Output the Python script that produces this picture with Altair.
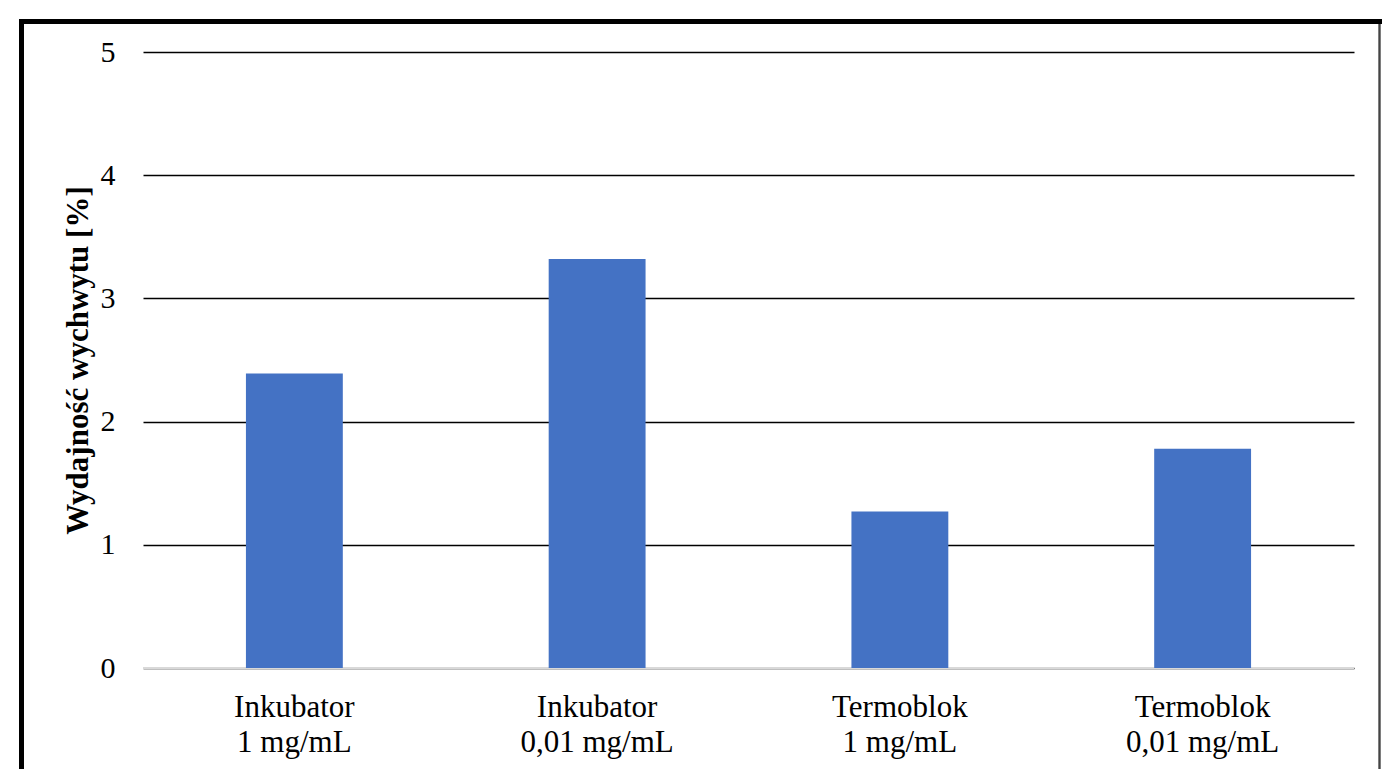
import altair as alt
import pandas as pd

# Recovery yield per heating method and standard concentration
devices = ["Inkubator", "Inkubator", "Termoblok", "Termoblok"]
concentrations = ["1 mg/mL", "0,01 mg/mL", "1 mg/mL", "0,01 mg/mL"]
yields = [2.39, 3.32, 1.27, 1.78]
y_ticks = [0, 1, 2, 3, 4, 5]

categories = [f"{d}|{c}" for d, c in zip(devices, concentrations)]
df = pd.DataFrame({"kategoria": categories, "wydajnosc": yields})

FONT = "Liberation Serif"
W, H = 1211, 616

bars = alt.Chart(df).mark_bar(color="#4472C4").encode(
    x=alt.X(
        "kategoria:N",
        sort=categories,
        title=None,
        scale=alt.Scale(paddingInner=0.68, paddingOuter=0.34),
        axis=alt.Axis(
            labelExpr="split(datum.label, '|')",
            labelAngle=0,
            labelFont=FONT,
            labelFontSize=31,
            labelLineHeight=35,
            labelPadding=24,
            ticks=False,
            domain=False,
            grid=False,
        ),
    ),
    y=alt.Y(
        "wydajnosc:Q",
        title=["Wydajność wychwytu [%]"],
        scale=alt.Scale(domain=[0, 5], nice=False),
        axis=alt.Axis(
            values=y_ticks,
            labelExpr="[format(datum.value, 'd')]",
            labelFont=FONT,
            labelFontSize=30,
            labelPadding=28,
            ticks=False,
            domain=False,
            grid=True,
            gridColor="black",
            gridWidth=1.6,
            titleFont=FONT,
            titleFontSize=31,
            titleFontWeight="bold",
            titleX=-65,
            titleY=H / 2,
            titleBaseline="middle",
            titleAngle=270,
        ),
    ),
)

# Light baseline at zero, drawn over the black gridline
baseline = alt.Chart(pd.DataFrame({"wydajnosc": [y_ticks[0]]})).mark_rule(
    color="#d9d9d9", strokeWidth=2
).encode(y="wydajnosc:Q")

# Outer frame around the whole figure
frame = alt.Chart(df).mark_rect(fill=None, stroke="black", strokeWidth=5).encode(
    x=alt.value(-121.5), x2=alt.value(W + 60), y=alt.value(-30.5), y2=alt.value(H + 200)
)
edge = alt.Chart(df).mark_rule(color="#444444", strokeWidth=1.5).encode(
    x=alt.value(W + 25.5), y=alt.value(-28), y2=alt.value(H + 200)
)

chart = (
    alt.layer(baseline, bars, frame, edge)
    .properties(
        width=W,
        height=H,
        padding={"left": 143, "top": 52, "right": 28, "bottom": 101},
        autosize=alt.AutoSizeParams(type="none"),
        background="white",
    )
    .configure(font=FONT)
    .configure_axis(
        labelFont=FONT,
        titleFont=FONT,
        labelColor="black",
        titleColor="black",
    )
    .configure_view(stroke=None)
)

chart.save("out.html", embed_options={"renderer": "svg", "actions": False})
